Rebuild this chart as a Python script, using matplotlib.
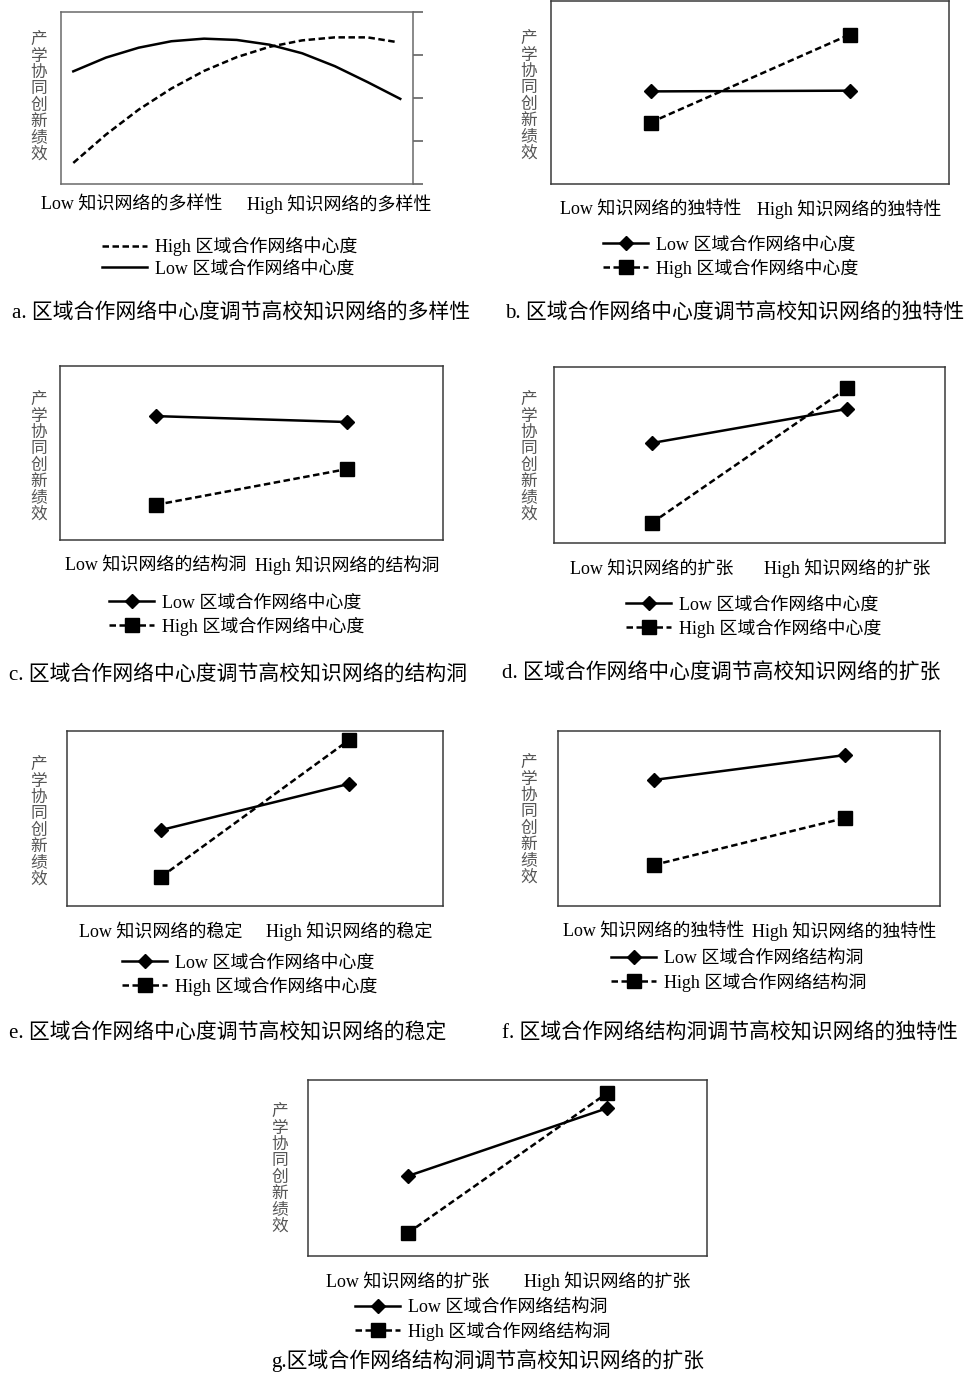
import matplotlib
matplotlib.use('Agg')
import matplotlib.pyplot as plt
from matplotlib.lines import Line2D

plt.rcParams['font.family'] = ['Liberation Serif', 'Noto Sans CJK SC']

# ============================================================
# DATA
# ============================================================
# panel a: curves, x = 0..10 from Low to High
a_x_low = [0, 1, 2, 3, 4, 5, 6, 7, 8, 9, 10]
a_y_low = [2.62, 2.94, 3.17, 3.32, 3.38, 3.35, 3.24, 3.04, 2.74, 2.37, 1.98]
a_x_high = [0, 1, 2, 3, 4, 5, 6, 7, 8, 9, 9.9]
a_y_high = [0.49, 1.15, 1.73, 2.22, 2.63, 2.95, 3.19, 3.34, 3.41, 3.41, 3.30]
a_tick_pos = [1.8, 8.13]
a_ticklabels = ['Low 知识网络的多样性', 'High 知识网络的多样性']
a_legend = ['High 区域合作网络中心度', 'Low 区域合作网络中心度']

# panels b-g: two-point lines (Low, High on x)
xs = [0, 1]
b_low, b_high = [2.53, 2.55], [1.68, 4.08]
c_low, c_high = [3.56, 3.39], [1.01, 2.04]
d_low, d_high = [2.84, 3.81], [0.57, 4.40]
e_low, e_high = [2.17, 3.49], [0.83, 4.74]
f_low, f_high = [3.60, 4.31], [1.17, 2.51]
g_low, g_high = [2.27, 4.20], [0.65, 4.63]

b_ticks = ['Low 知识网络的独特性', 'High 知识网络的独特性']
c_ticks = ['Low 知识网络的结构洞', 'High 知识网络的结构洞']
d_ticks = ['Low 知识网络的扩张', 'High 知识网络的扩张']
e_ticks = ['Low 知识网络的稳定', 'High 知识网络的稳定']
f_ticks = ['Low 知识网络的独特性', 'High 知识网络的独特性']
g_ticks = ['Low 知识网络的扩张', 'High 知识网络的扩张']

leg_centrality = ['Low 区域合作网络中心度', 'High 区域合作网络中心度']
leg_hole = ['Low 区域合作网络结构洞', 'High 区域合作网络结构洞']

captions = [
    'a. 区域合作网络中心度调节高校知识网络的多样性',
    'b. 区域合作网络中心度调节高校知识网络的独特性',
    'c. 区域合作网络中心度调节高校知识网络的结构洞',
    'd. 区域合作网络中心度调节高校知识网络的扩张',
    'e. 区域合作网络中心度调节高校知识网络的稳定',
    'f. 区域合作网络结构洞调节高校知识网络的独特性',
    'g.区域合作网络结构洞调节高校知识网络的扩张',
]
ylabel = '产学协同创新绩效'

# ============================================================
# LAYOUT
# ============================================================
W, H = 964, 1375
fig = plt.figure(figsize=(W / 100, H / 100), dpi=100)
fig.patch.set_facecolor('white')

def fx(x): return x / W
def fy(y): return 1 - y / H

def make_ax(l, t, r, b):
    ax = fig.add_axes([fx(l), fy(b), (r - l) / W, (b - t) / H])
    for s in ax.spines.values():
        s.set_color('#3a3a3a')
        s.set_linewidth(1.1)
    ax.set_yticks([])
    return ax

def add_ylabel(x, y):
    fig.text(fx(x), fy(y), '\n'.join(ylabel), ha='center', va='center',
             fontsize=12, color='#555555', linespacing=0.95,
             family=['Noto Sans CJK SC'])

def set_xlabels(ax, pos, labels, pad):
    ax.set_xticks(pos)
    ax.set_xticklabels(labels, fontsize=FS)
    ax.tick_params(axis='x', length=0, pad=pad)
    for t in ax.get_xticklabels():
        t.set_verticalalignment('baseline')

LW = 1.8
DASH = (0, (2.6, 1.4))
FS = 13

def add_legend(ax, handles, labels, x, y):
    ax.legend(handles, labels, loc='center left',
              bbox_to_anchor=(fx(x), fy(y)), bbox_transform=fig.transFigure,
              frameon=False, fontsize=FS, handlelength=2.5, handletextpad=0.45,
              labelspacing=0.25, borderpad=0, borderaxespad=0, numpoints=1)

h_low = Line2D([], [], color='black', lw=LW, marker='D', markersize=7)
h_high = Line2D([], [], color='black', lw=LW, ls=DASH, marker='s', markersize=9.5)

# ---------------- panel a ----------------
ax = make_ax(61, 12, 413, 184)
ax.plot(a_x_low, a_y_low, color='black', lw=LW)
ax.plot(a_x_high, a_y_high, color='black', lw=LW, ls=DASH)
ax.set_xlim(-0.376, 10.39)
ax.set_ylim(0, 4)
ax.yaxis.tick_right()
ax.set_yticks([0, 1, 2, 3, 4])
ax.tick_params(axis='y', direction='out', length=7, width=1.1, color='#555555',
               labelright=False)
set_xlabels(ax, a_tick_pos, a_ticklabels, 18.5)
for s in ax.spines.values():
    s.set_color('#6a6a6a')
hd = [Line2D([], [], color='black', lw=LW, ls=DASH),
      Line2D([], [], color='black', lw=LW)]
add_legend(ax, hd, a_legend, 102, 257)
add_ylabel(39, 97)

# ---------------- panels b-g ----------------
panels = [
    # box (l, t, r, b), low, high, ticks, legend labels, legend (x, y), ylabel (x, y)
    ((551, 1, 949, 184), b_low, b_high, b_ticks, leg_centrality, (603, 257), (529, 96)),
    ((60, 366, 443, 540), c_low, c_high, c_ticks, leg_centrality, (109, 615), (39, 457)),
    ((554, 367, 945, 543), d_low, d_high, d_ticks, leg_centrality, (626, 617), (529, 457)),
    ((67, 731, 443, 906), e_low, e_high, e_ticks, leg_centrality, (122, 975), (39, 822)),
    ((558, 731, 940, 906), f_low, f_high, f_ticks, leg_hole, (611, 971), (529, 820)),
    ((308, 1080, 707, 1256), g_low, g_high, g_ticks, leg_hole, (355, 1320), (280, 1169)),
]

for box, low, high, ticks, leg, lpos, ypos in panels:
    ax = make_ax(*box)
    ax.plot(xs, low, color='black', lw=LW, marker='D', markersize=7)
    ax.plot(xs, high, color='black', lw=LW, ls=DASH, marker='s', markersize=9.5)
    ax.set_xlim(-0.5, 1.5)
    ax.set_ylim(0, 5)
    set_xlabels(ax, xs, ticks, 22)
    add_legend(ax, [h_low, h_high], leg, *lpos)
    add_ylabel(*ypos)

# ---------------- captions ----------------
cap_pos = [(12, 313, 'left'), (505, 313, 'left'), (9, 675, 'left'), (502, 673, 'left'),
           (9, 1033, 'left'), (502, 1033, 'left'), (488, 1361, 'center')]
for txt, (x, y, ha) in zip(captions, cap_pos):
    fig.text(fx(x), fy(y), txt, ha=ha, va='center', fontsize=15.0)

plt.savefig('out.png', dpi=100, facecolor='white')
